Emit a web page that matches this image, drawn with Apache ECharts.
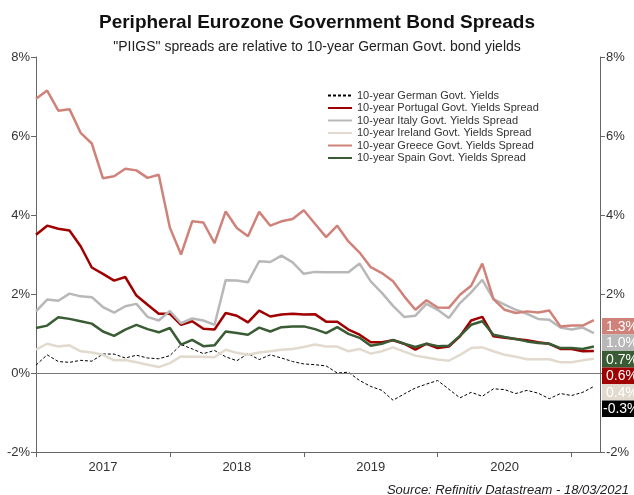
<!DOCTYPE html>
<html>
<head>
<meta charset="utf-8">
<script src="https://cdn.jsdelivr.net/npm/echarts@6/dist/echarts.min.js"></script>
<style>
  html, body { margin: 0; padding: 0; background: #fff; }
  #chart { width: 634px; height: 495px; }
</style>
</head>
<body>
<div id="chart"></div>
<script>
// Monthly observations, Jan 2017 - Mar 2021 (x = months since Jan 2017)
const startYear = 2017;
const lastMonthIndex = 50;           // Mar 2021
const axisEndMonth = 50 + 17 / 31;   // axis runs to 18 Mar 2021
const yearStartTicks = [0, 12, 24, 36, 48];
const yearLabelPositions = [6, 18, 30, 42];
const yearNames = ['2017', '2018', '2019', '2020'];

// Percent values
const german = [0.20,0.46,0.29,0.27,0.32,0.30,0.48,0.48,0.38,0.45,0.38,0.36,
  0.44,0.72,0.61,0.49,0.57,0.41,0.31,0.49,0.34,0.46,0.38,0.29,
  0.23,0.21,0.18,0.00,0.02,-0.19,-0.34,-0.44,-0.69,-0.53,-0.38,-0.28,
  -0.19,-0.41,-0.63,-0.49,-0.59,-0.40,-0.42,-0.52,-0.44,-0.51,-0.65,-0.52,
  -0.57,-0.49,-0.34];
const portugal = [3.50,3.73,3.65,3.61,3.21,2.67,2.51,2.34,2.43,1.96,1.73,1.50,
  1.50,1.22,1.31,1.12,1.10,1.52,1.45,1.28,1.58,1.43,1.48,1.50,
  1.48,1.49,1.30,1.30,1.10,0.97,0.78,0.78,0.83,0.74,0.59,0.74,
  0.63,0.67,0.93,1.33,1.42,0.93,0.89,0.86,0.83,0.78,0.74,0.61,
  0.61,0.55,0.56];
const italy = [1.56,1.86,1.83,2.01,1.94,1.92,1.67,1.53,1.69,1.75,1.42,1.33,
  1.57,1.26,1.38,1.33,1.22,2.35,2.34,2.30,2.83,2.81,2.97,2.80,
  2.51,2.56,2.55,2.55,2.55,2.77,2.32,2.03,1.70,1.42,1.45,1.75,
  1.60,1.39,1.77,2.04,2.36,1.87,1.73,1.60,1.50,1.37,1.35,1.15,
  1.10,1.15,1.01];
const ireland = [0.59,0.74,0.67,0.70,0.55,0.52,0.46,0.32,0.33,0.27,0.21,0.15,
  0.25,0.42,0.41,0.41,0.40,0.59,0.51,0.46,0.52,0.55,0.59,0.61,
  0.66,0.72,0.67,0.67,0.55,0.61,0.49,0.55,0.65,0.54,0.44,0.39,
  0.34,0.31,0.46,0.63,0.65,0.55,0.46,0.41,0.35,0.35,0.35,0.27,
  0.27,0.32,0.36];
const greece = [6.94,7.15,6.64,6.68,6.08,5.81,4.93,4.98,5.17,5.13,4.94,5.02,
  3.68,3.00,3.84,3.81,3.29,4.09,3.67,3.46,4.08,3.73,3.84,3.90,
  4.12,3.78,3.44,3.73,3.33,3.05,2.68,2.53,2.32,1.94,1.60,1.84,
  1.66,1.65,1.98,2.21,2.77,1.87,1.60,1.52,1.56,1.53,1.58,1.18,
  1.20,1.20,1.34];
const spain = [1.14,1.20,1.41,1.37,1.31,1.25,1.05,0.94,1.10,1.22,1.11,1.03,
  1.14,0.72,0.84,0.68,0.70,1.05,1.01,0.97,1.15,1.05,1.16,1.18,
  1.18,1.11,1.01,1.16,0.99,0.89,0.69,0.74,0.84,0.74,0.66,0.74,
  0.68,0.69,0.94,1.22,1.31,0.97,0.91,0.86,0.80,0.76,0.74,0.63,
  0.63,0.61,0.67];

const seriesNames = [
  '10-year German Govt. Yields',
  '10-year Portugal Govt. Yields Spread',
  '10-year Italy Govt. Yields Spread',
  '10-year Ireland Govt. Yields Spread',
  '10-year Greece Govt. Yields Spread',
  '10-year Spain Govt. Yields Spread'
];
const seriesData = [german, portugal, italy, ireland, greece, spain];
const seriesColors = ['#000000', '#a00000', '#b8b8b8', '#e2dace', '#cf8279', '#3a5c35'];

const yTicks = { min: -2, max: 8, interval: 2 };
const FONT = 'Liberation Sans, Arial, sans-serif';

const chart = echarts.init(document.getElementById('chart'), null, { renderer: 'canvas' });

const axisStyle = {
  axisLine: { show: true, onZero: false, lineStyle: { color: '#666', width: 1 } },
  axisTick: { show: true, length: 5, lineStyle: { color: '#666' } },
  splitLine: { show: false }
};

const series = seriesData.map((d, i) => {
  const s = {
    name: seriesNames[i],
    type: 'line',
    data: d.map((v, k) => [k, v]),
    symbol: 'none',
    smooth: false,
    color: seriesColors[i],
    lineStyle: { color: seriesColors[i], width: 2.5 },
    z: 3 + i
  };
  if (i === 0) {
    s.lineStyle = { color: '#000', width: 1, type: [3, 2] };
    s.markLine = {
      silent: true,
      symbol: 'none',
      label: { show: false },
      lineStyle: { color: '#777', width: 1, type: 'solid' },
      data: [{ yAxis: 0 }]
    };
  }
  return s;
});

chart.setOption({
  animation: false,
  backgroundColor: '#fff',
  title: [
    {
      text: 'Peripheral Eurozone Government Bond Spreads',
      left: 'center', top: 8,
      textStyle: { fontFamily: FONT, fontSize: 19, fontWeight: 'bold', color: '#111' }
    },
    {
      text: '"PIIGS" spreads are relative to 10-year German Govt. bond yields',
      left: 'center', top: 35,
      textStyle: { fontFamily: FONT, fontSize: 14, fontWeight: 'normal', color: '#222' }
    },
    {
      text: 'Source: Refinitiv Datastream - 18/03/2021',
      right: 0, top: 479,
      textStyle: { fontFamily: FONT, fontSize: 13, fontStyle: 'italic', fontWeight: 'normal', color: '#222' }
    }
  ],
  legend: {
    orient: 'vertical',
    left: 327, top: 90, padding: 0,
    itemWidth: 24, itemHeight: 10, itemGap: 1.5,
    itemStyle: { opacity: 0 },
    textStyle: { fontFamily: FONT, fontSize: 11, color: '#333', lineHeight: 11 },
    data: seriesNames
  },
  grid: { left: 36, right: 34, top: 57, bottom: 43, containLabel: false },
  xAxis: {
    type: 'value',
    min: 0, max: axisEndMonth,
    axisLine: { show: true, onZero: false, lineStyle: { color: '#666' } },
    axisTick: { show: true, length: 5, customValues: yearStartTicks, lineStyle: { color: '#666' } },
    axisLabel: {
      customValues: yearLabelPositions,
      formatter: (v) => yearNames[yearLabelPositions.indexOf(Math.round(v))] || '',
      fontFamily: FONT, fontSize: 13, color: '#333', margin: 9
    },
    splitLine: { show: false }
  },
  yAxis: [
    Object.assign({
      type: 'value', position: 'left',
      min: yTicks.min, max: yTicks.max, interval: yTicks.interval,
      axisLabel: { formatter: '{value}%', fontFamily: FONT, fontSize: 13, color: '#333', margin: 6 }
    }, axisStyle),
    Object.assign({
      type: 'value', position: 'right',
      min: yTicks.min, max: yTicks.max, interval: yTicks.interval,
      axisLabel: { formatter: '{value}%', fontFamily: FONT, fontSize: 13, color: '#333', margin: 6 }
    }, axisStyle)
  ],
  series: series
});

// Value tags at the right edge, stacked so they don't overlap
const tags = seriesData.map((d, i) => ({ value: d[lastMonthIndex], color: seriesColors[i] }))
  .sort((a, b) => b.value - a.value);
const tagH = 16.5;
const tagX = 602;
let prevBottom = -Infinity;
const graphics = [];
tags.forEach((t) => {
  const py = chart.convertToPixel({ yAxisIndex: 0 }, t.value);
  const top = Math.max(py - 2, prevBottom);
  prevBottom = top + tagH;
  graphics.push({
    type: 'rect', z: 100,
    shape: { x: tagX, y: top, width: 40, height: tagH },
    style: { fill: t.color }
  });
  graphics.push({
    type: 'text', z: 101,
    style: {
      text: t.value.toFixed(1) + '%',
      x: tagX + (t.value < 0 ? 1 : 4), y: top + tagH / 2 + 0.5,
      verticalAlign: 'middle', textVerticalAlign: 'middle',
      fill: '#fff', font: '14px ' + FONT
    }
  });
});
chart.setOption({ graphic: graphics });
</script>
</body>
</html>
